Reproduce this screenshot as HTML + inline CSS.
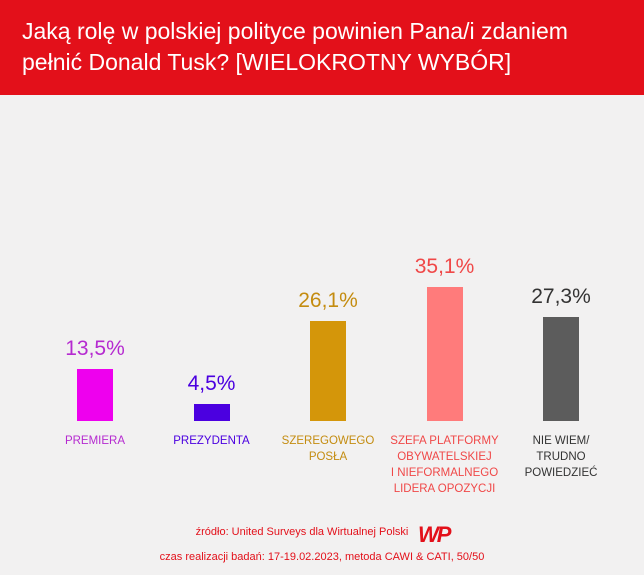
<!DOCTYPE html>
<html><head><meta charset="utf-8"><style>
body{margin:0;width:644px;height:575px;background:#f2f1f1;font-family:"Liberation Sans",sans-serif;position:relative;overflow:hidden}
#hdr{position:absolute;left:0;top:0;width:644px;height:95px;background:#e3101a;color:#fff;font-size:23px;line-height:31px;box-sizing:border-box;padding:16px 0 0 22px}
.val{position:absolute;font-size:21px;text-align:center;width:120px}
.lab{position:absolute;font-size:11.5px;line-height:16px;text-align:center;width:130px;top:433px}
.bar{position:absolute}
.f{position:absolute;color:#e3101a;font-size:11px;width:644px;text-align:center}
</style></head><body>
<div id="hdr">Jaką rolę w polskiej polityce powinien Pana/i zdaniem<br>pełnić Donald Tusk? [WIELOKROTNY WYBÓR]</div>
<div id="chart"></div>
<div class="f" style="top:526px;left:-20px">źródło: United Surveys dla Wirtualnej Polski</div>
<div style="position:absolute;left:418px;top:522px;color:#e3101a;font-weight:bold;font-style:italic;font-size:22px;letter-spacing:-2px">WP</div>
<div class="f" style="top:551px">czas realizacji badań: 17-19.02.2023, metoda CAWI &amp; CATI, 50/50</div>
<script>
const categories=["PREMIERA","PREZYDENTA","SZEREGOWEGO<br>POSŁA","SZEFA PLATFORMY<br>OBYWATELSKIEJ<br>I NIEFORMALNEGO<br>LIDERA OPOZYCJI","NIE WIEM/<br>TRUDNO<br>POWIEDZIEĆ"];
const values=[13.5,4.5,26.1,35.1,27.3];
const valueLabels=["13,5%","4,5%","26,1%","35,1%","27,3%"];
const barColors=["#ee00ee","#4b00e0","#d4960a","#ff7b7b","#5c5c5c"];
const textColors=["#b52ad0","#4b00e0","#c48c10","#f04848","#333333"];
const base=421,scale=3.82,x0=95,step=116.5,bw=36;
const c=document.getElementById('chart');
values.forEach((v,i)=>{
 const cx=x0+i*step,h=v*scale;
 const b=document.createElement('div');b.className='bar';
 
 
 b.style.cssText=`left:${cx-bw/2}px;top:${base-h}px;width:${bw}px;height:${h}px;background:${barColors[i]}`;
 c.appendChild(b);
 const t=document.createElement('div');t.className='val';
 
 
 t.style.cssText=`left:${cx-60}px;top:${base-h-32}px;color:${textColors[i]}`;
 t.textContent=valueLabels[i];c.appendChild(t);
 const l=document.createElement('div');l.className='lab';
 
 
 l.style.cssText=`left:${cx-65}px;color:${textColors[i]}`;
 l.innerHTML=categories[i];c.appendChild(l);
});
</script>
</body></html>
